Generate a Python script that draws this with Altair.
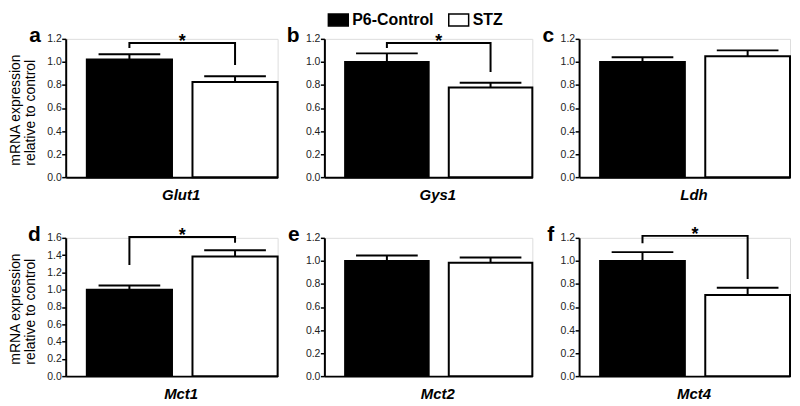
import altair as alt
import pandas as pd

genes = ["Glut1", "Gys1", "Ldh", "Mct1", "Mct2", "Mct4"]
letters = ["a", "b", "c", "d", "e", "f"]
groups = ["P6-Control", "STZ"]
control_mean = [1.02, 1.00, 1.00, 1.00, 1.00, 1.00]
control_sem = [0.047, 0.074, 0.04, 0.048, 0.047, 0.076]
stz_mean = [0.825, 0.777, 1.05, 1.383, 0.984, 0.705]
stz_sem = [0.05, 0.043, 0.05, 0.073, 0.046, 0.061]
y_max = [1.2, 1.2, 1.2, 1.6, 1.2, 1.2]

# significance brackets
sig_genes = ["Glut1", "Gys1", "Mct1", "Mct4"]
sig_top = [1.165, 1.165, 1.611, 1.217]
sig_left = [1.12, 1.12, 1.285, 1.152]
sig_right = [0.973, 0.912, 1.543, 0.843]

FONT = "Liberation Sans"
Y_TITLE = ["mRNA expression", "relative to control"]
P_INNER = 0.194
P_OUTER = 0.1


def panel(i, width, height, show_title):
    g = genes[i]
    df = pd.DataFrame({
        "group": groups,
        "mean": [control_mean[i], stz_mean[i]],
        "upper": [control_mean[i] + control_sem[i], stz_mean[i] + stz_sem[i]],
    })
    xscale = alt.Scale(domain=groups, paddingInner=P_INNER, paddingOuter=P_OUTER, align=1)
    yvals = [round(k * 0.2, 1) for k in range(int(round(y_max[i] / 0.2)) + 1)]
    yscale = alt.Scale(domain=[0, y_max[i]], nice=False)
    xaxis = alt.Axis(labels=False, ticks=False, title=g, titleFontStyle="italic",
                     titleFontWeight="bold", titleFontSize=15, titleX=width / 2 + 9,
                     titleY=22, titleBaseline="alphabetic", titleAlign="center",
                     titleColor="black", domainWidth=2, domainColor="black")
    yaxis_kw = dict(values=yvals, format=".1f", domainWidth=2, domainColor="black",
                    tickColor="black", tickWidth=1.5, tickSize=4, labelFontSize=10.5,
                    labelColor="#222", labelPadding=0.5, grid=False)
    if show_title:
        yaxis = alt.Axis(title=Y_TITLE, titleFontSize=14, titleFontWeight="normal",
                         titleAlign="left", titleAngle=-90, titleX=-57,
                         titleY=height - 12, titleBaseline="top", titleLineHeight=15,
                         titleColor="black", **yaxis_kw)
    else:
        yaxis = alt.Axis(title=None, **yaxis_kw)
    x = alt.X("group:N", scale=xscale, axis=xaxis)

    base = alt.Chart(df)
    bars = base.mark_bar(stroke="black", strokeWidth=2, opacity=1).encode(
        x=x,
        y=alt.Y("mean:Q", scale=yscale, axis=yaxis),
        fill=alt.Fill("group:N", scale=alt.Scale(domain=groups, range=["black", "white"]),
                      legend=alt.Legend(title=None, orient="none", legendX=263, legendY=-30,
                                        direction="horizontal", labelFontSize=16,
                                        labelFontWeight="bold", labelFont=FONT,
                                        labelColor="black",
                                        symbolType="M-1,-0.6H1V0.6H-1Z", symbolSize=400,
                                        symbolStrokeColor="black", symbolStrokeWidth=1.5,
                                        symbolOpacity=1,
                                        labelOffset=3, columnPadding=12)),
    )
    err = base.mark_rule(color="black", strokeWidth=2, opacity=1).encode(
        x=x, y=alt.Y("mean:Q", scale=yscale, axis=yaxis), y2="upper:Q")
    cap = base.mark_tick(color="black", size=62, thickness=2, opacity=1).encode(
        x=x, y=alt.Y("upper:Q", scale=yscale, axis=yaxis))
    lab = alt.Chart(pd.DataFrame({"letter": [letters[i]]})).mark_text(
        align="right", baseline="alphabetic", fontSize=21, fontWeight="bold",
        font=FONT, color="black").encode(text="letter:N", x=alt.value(-25), y=alt.value(3))
    layers = [bars, err, cap, lab]
    if g in sig_genes:
        k = sig_genes.index(g)
        bdf = pd.DataFrame({
            "group": [groups[0], groups[0], groups[1], groups[1]],
            "val": [sig_left[k], sig_top[k], sig_top[k], sig_right[k]],
            "seq": [0, 1, 2, 3],
        })
        bracket = alt.Chart(bdf).mark_line(color="black", strokeWidth=2, strokeJoin="miter",
                                           opacity=1).encode(
            x=x, y=alt.Y("val:Q", scale=yscale, axis=yaxis), order="seq:Q")
        step = width / (2 - P_INNER + 2 * P_OUTER)
        sdf = pd.DataFrame({"group": [groups[0]], "val": [sig_top[k]], "t": ["*"]})
        star = alt.Chart(sdf).mark_text(fontSize=18, fontWeight="bold", font=FONT,
                                        baseline="alphabetic", dx=step / 2, dy=4,
                                        color="black").encode(
            x=x, y=alt.Y("val:Q", scale=yscale, axis=yaxis), text="t:N")
        layers += [bracket, star]
    return alt.layer(*layers).properties(width=width, height=height)


widths = [213, 209, 212]
H = 139
panels = [panel(i, widths[i % 3], H, i % 3 == 0) for i in range(6)]
chart = alt.concat(*panels, columns=3, spacing=alt.RowColnumber(row=61, column=47),
                   bounds="flush").properties(
    padding=0, background="white"
).configure_view(stroke=None).configure(font=FONT)

chart.save("out.html", embed_options={"renderer": "svg", "actions": False})
